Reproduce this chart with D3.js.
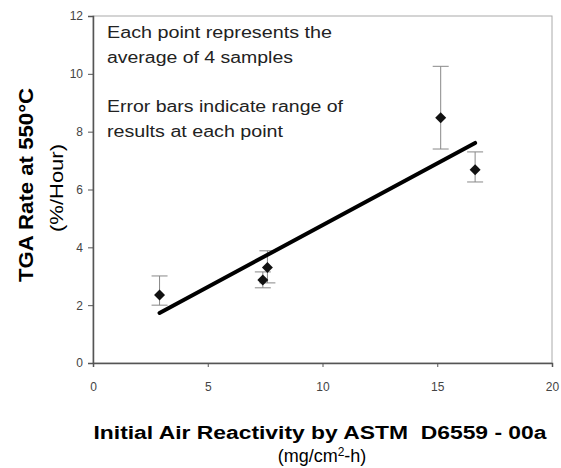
<!DOCTYPE html>
<html lang="en">
<head>
<meta charset="utf-8">
<script src="https://d3js.org/d3.v7.min.js"></script>
<style>
  body { margin: 0; background: #fff; }
  text { font-family: "Liberation Sans", Arial, sans-serif; }
</style>
</head>
<body>
<script>
// data
var xVals   = [2.9, 7.4, 7.6, 15.15, 16.65];
var yVals   = [2.35, 2.87, 3.3, 8.48, 6.68];
var yLow    = [2.0, 2.6, 2.77, 7.4, 6.26];
var yHigh   = [3.01, 3.15, 3.88, 10.26, 7.3];
var trendX  = [2.9, 16.65];
var trendY  = [1.73, 7.61];
var xTicks  = [0, 5, 10, 15, 20];
var yTicks  = [0, 2, 4, 6, 8, 10, 12];
var notes   = ["Each point represents the", "average of 4 samples", "", "Error bars indicate range of", "results at each point"];
var noteLen = [225, 186, 0, 236, 176];

var w = 561, h = 468;
var svg = d3.select("body").append("svg").attr("width", w).attr("height", h);

// plot area
var x = d3.scaleLinear().domain([0, 20]).range([93, 552]);
var y = d3.scaleLinear().domain([0, 12]).range([363, 16]);

// frame
svg.append("rect")
   .attr("x", x(0)).attr("y", y(12))
   .attr("width", x(20) - x(0)).attr("height", y(0) - y(12))
   .attr("fill", "none").attr("stroke", "#aaa").attr("stroke-width", 1);

// axes
var yAxis = d3.axisLeft(y).tickValues(yTicks).tickSize(5).tickPadding(5);
var xAxis = d3.axisBottom(x).tickValues(xTicks).tickSize(4).tickPadding(15);

var gy = svg.append("g").attr("transform", "translate(" + x(0) + ",0)").call(yAxis);
var gx = svg.append("g").attr("transform", "translate(0," + y(0) + ")").call(xAxis);
[gx, gy].forEach(function(g) {
  g.select(".domain").attr("stroke", "#555").attr("stroke-width", 1.5);
  g.selectAll(".tick line").attr("stroke", "#555");
  g.selectAll(".tick text").attr("fill", "#444").style("font-size", "12px")
   .style("font-family", "Liberation Sans, Arial, sans-serif");
});

// notes
svg.append("g").selectAll("text")
   .data(notes).enter().append("text")
   .filter(function(d) { return d.length > 0; })
   .attr("x", 107)
   .attr("y", function(d, i) { return 38 + notes.indexOf(d) * 24.7; })
   .attr("fill", "#222")
   .style("font-size", "16px")
   .attr("textLength", function(d) { return noteLen[notes.indexOf(d)]; })
   .attr("lengthAdjust", "spacingAndGlyphs")
   .text(function(d) { return d; });

// error bars
var pts = xVals.map(function(v, i) { return {x: v, y: yVals[i], lo: yLow[i], hi: yHigh[i]}; });
var eb = svg.append("g").attr("stroke", "#888").attr("stroke-width", 1);
pts.forEach(function(d) {
  eb.append("line").attr("x1", x(d.x)).attr("x2", x(d.x)).attr("y1", y(d.lo)).attr("y2", y(d.hi));
  eb.append("line").attr("x1", x(d.x) - 8).attr("x2", x(d.x) + 8).attr("y1", y(d.lo)).attr("y2", y(d.lo));
  eb.append("line").attr("x1", x(d.x) - 8).attr("x2", x(d.x) + 8).attr("y1", y(d.hi)).attr("y2", y(d.hi));
});

// trend line
svg.append("line")
   .attr("x1", x(trendX[0])).attr("y1", y(trendY[0]))
   .attr("x2", x(trendX[1])).attr("y2", y(trendY[1]))
   .attr("stroke", "#000").attr("stroke-width", 4).attr("stroke-linecap", "round");

// diamonds
var diamond = d3.symbol().type(d3.symbolSquare).size(60);
svg.append("g").selectAll("path")
   .data(pts).enter().append("path")
   .attr("d", diamond)
   .attr("transform", function(d) { return "translate(" + x(d.x) + "," + y(d.y) + ") rotate(45)"; })
   .attr("fill", "#111");

// axis titles
svg.append("text")
   .attr("transform", "translate(33,185) rotate(-90)")
   .attr("text-anchor", "middle")
   .style("font-size", "21px").style("font-weight", "bold")
   .attr("textLength", 194).attr("lengthAdjust", "spacingAndGlyphs")
   .text("TGA Rate at 550\u00B0C");
svg.append("text")
   .attr("transform", "translate(63,188) rotate(-90)")
   .attr("text-anchor", "middle")
   .style("font-size", "18px")
   .attr("textLength", 88).attr("lengthAdjust", "spacingAndGlyphs")
   .text("(%/Hour)");

svg.append("text")
   .attr("x", 320).attr("y", 439)
   .attr("text-anchor", "middle")
   .style("font-size", "18px").style("font-weight", "bold")
   .style("white-space", "pre")
   .attr("textLength", 453).attr("lengthAdjust", "spacingAndGlyphs")
   .text("Initial Air Reactivity by ASTM \u00A0D6559 - 00a");
var sub = svg.append("text")
   .attr("x", 322).attr("y", 462)
   .attr("text-anchor", "middle")
   .style("font-size", "18px");
sub.append("tspan").text("(mg/cm");
sub.append("tspan").attr("dy", -6).style("font-size", "12px").text("2");
sub.append("tspan").attr("dy", 6).text("-h)");
</script>
</body>
</html>
